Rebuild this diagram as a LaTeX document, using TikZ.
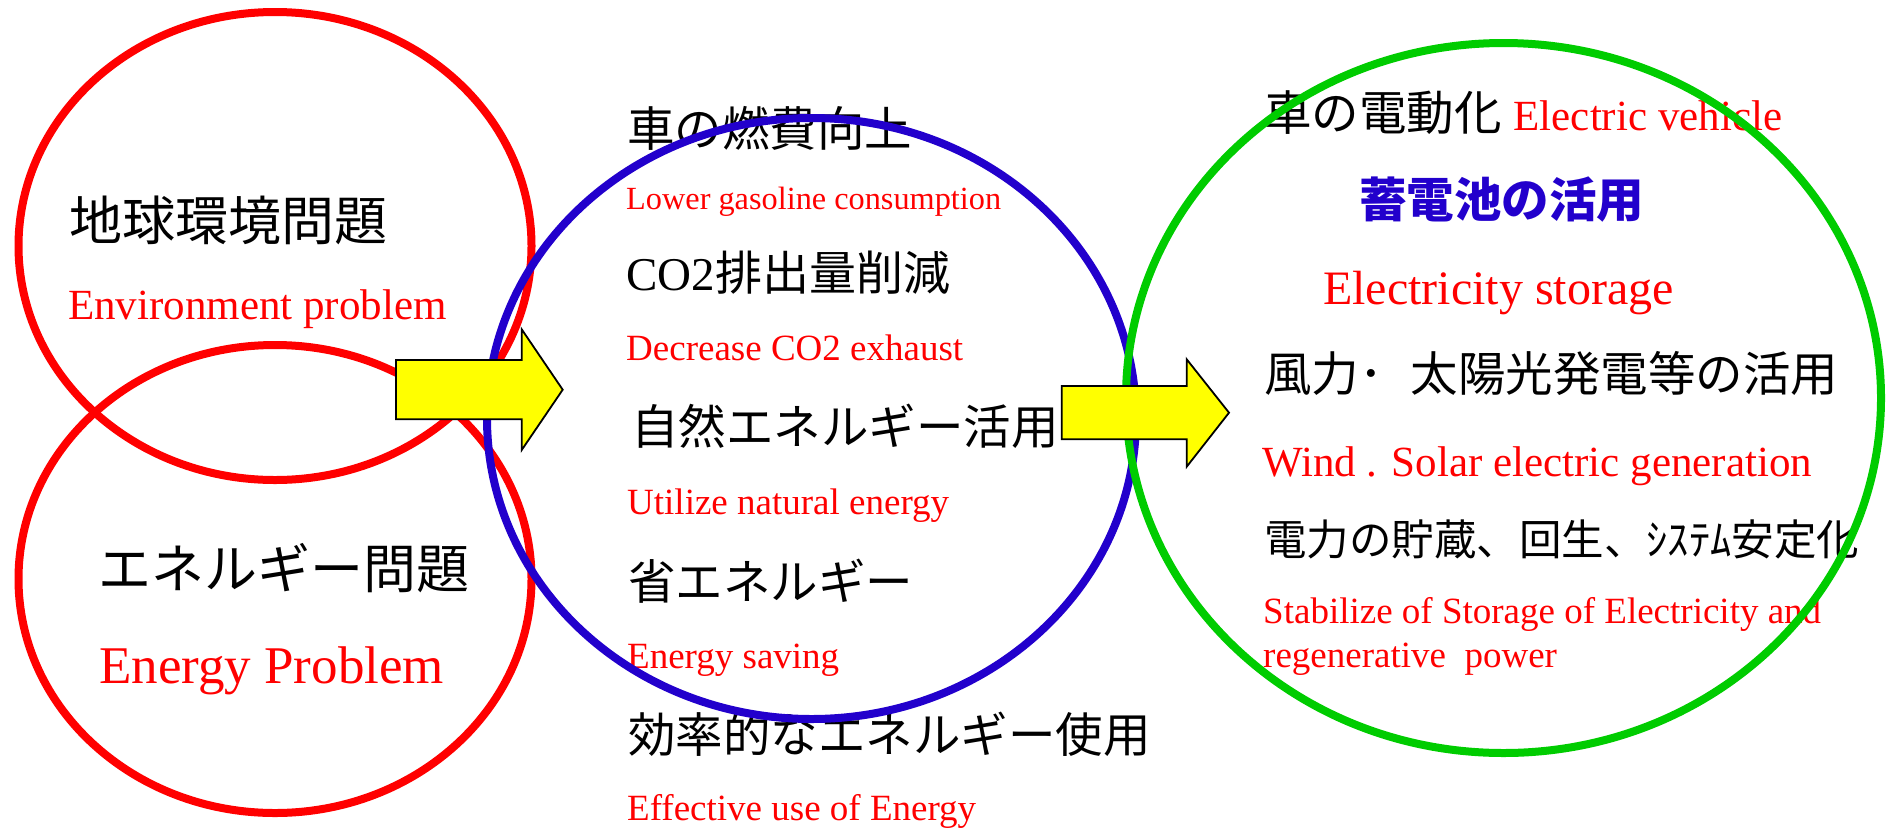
\documentclass[tikz,border=0pt]{standalone}
\usepackage{fontspec}
\setmainfont{Liberation Serif}
\newfontfamily\jp{Noto Sans CJK JP}
\definecolor{redc}{RGB}{255,0,0}
\definecolor{bluec}{RGB}{34,0,204}
\definecolor{greenc}{RGB}{0,204,0}
\definecolor{yellowc}{RGB}{255,255,0}
\tikzset{
  txt/.style={inner sep=0pt, anchor=base west},
  jpt/.style={txt, font=\jp\fontsize{#1}{#1}\selectfont},
  jpb/.style={txt, text=bluec, font=\jp\bfseries\fontsize{#1}{#1}\selectfont},
  ent/.style={txt, text=redc, font=\fontsize{#1}{#1}\selectfont},
  ring/.style={line width=8pt},
  barrow/.style={draw=black, line width=1.8pt, fill=yellowc, line join=miter}
}
\begin{document}
\begin{tikzpicture}[x=1pt,y=-1pt]
\useasboundingbox (0,0) rectangle (1889,828);
% left column
\node[jpt=53] (envjp) at (69,240) {地球環境問題};
\node[ent=43] (enven) at (68,319) {Environment problem};
\node[jpt=53] (enejp) at (98,588) {エネルギー問題};
\node[ent=53] (eneen) at (99,683) {Energy Problem};
% middle column
\node[jpt=47.5] (m1) at (627,146) {車の燃費向上};
\node[ent=32.3] (m1e) at (626,209) {Lower gasoline consumption};
\node[txt, font=\fontsize{47}{47}\selectfont] (m2) at (626,290) {CO2{\jp 排出量削減}};
\node[ent=37] (m2e) at (626,360) {Decrease CO2 exhaust};
\node[jpt=47.5] (m3) at (631,444.5) {自然エネルギー活用};
\node[ent=37] (m3e) at (627,514) {Utilize natural energy};
\node[jpt=47.5] (m4) at (628,599) {省エネルギー};
\node[ent=37] (m4e) at (627,668) {Energy saving};
\node[jpt=47.5] (m5) at (628,752) {効率的なエネルギー使用};
\node[ent=37] (m5e) at (627,820) {Effective use of Energy};
% right column
\node[txt, font=\fontsize{47.5}{47.5}\selectfont] (r1) at (1264,130) {{\jp 車の電動化} {\color{redc}\fontsize{43}{43}\selectfont Electric vehicle}};
\node[jpb=47.5] (r2) at (1359,217) {蓄電池の活用};
\node[ent=48] (r2e) at (1323,304.6) {Electricity storage};
\node[jpt=47.5] (r3) at (1264,391) {風力･\hspace{0.59em}太陽光発電等の活用};
\node[ent=43] (r3e) at (1262,476) {Wind . Solar electric generation};
\node[jpt=42.5] (r4) at (1264,555) {電力の貯蔵、回生、ｼｽﾃﾑ安定化};
\node[ent=37] (r4e) at (1263,623) {Stabilize of Storage of Electricity and};
\node[ent=37] (r4f) at (1263,667) {regenerative\ \ power};
% rings
\draw[ring, draw=redc] (275,246) ellipse [x radius=256.5, y radius=234];
\draw[ring, draw=redc] (275,579) ellipse [x radius=256.5, y radius=234];
\draw[ring, draw=bluec] (811.5,418.5) ellipse [x radius=324.5, y radius=300.5];
\draw[ring, draw=greenc] (1503.5,398) ellipse [x radius=377.5, y radius=355];
% block arrows
\draw[barrow] (396,360) -- (521.7,360) -- (521.7,329.3) -- (562.7,389.7) -- (521.7,450) -- (521.7,419.3) -- (396,419.3) -- cycle;
\draw[barrow] (1061.7,386) -- (1186.7,386) -- (1186.7,359.3) -- (1229,412.7) -- (1186.7,466.7) -- (1186.7,439.3) -- (1061.7,439.3) -- cycle;
\end{tikzpicture}
\end{document}
